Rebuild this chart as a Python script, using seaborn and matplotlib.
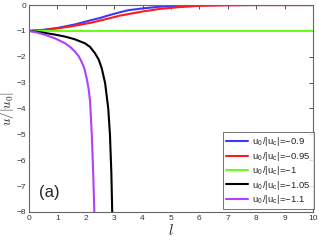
import numpy as np
import pandas as pd
import matplotlib
matplotlib.use("Agg")
import matplotlib.pyplot as plt
import seaborn as sns

labels = [r"u$_\mathregular{0}$/|u$_\mathregular{c}$|=−0.9",
          r"u$_\mathregular{0}$/|u$_\mathregular{c}$|=−0.95",
          r"u$_\mathregular{0}$/|u$_\mathregular{c}$|=−1",
          r"u$_\mathregular{0}$/|u$_\mathregular{c}$|=−1.05",
          r"u$_\mathregular{0}$/|u$_\mathregular{c}$|=−1.1"]
colors = ["#3a3aff", "#ff1a1a", "#66ff1a", "#000000", "#b040ff"]

l_blue = [0, 0.5, 1.03, 1.62, 2.2, 2.5, 2.8, 3.2, 3.5, 4.0, 4.6, 5.3, 6.0, 7.0, 10.0]
u_blue = [-1, -0.96, -0.88, -0.75, -0.58, -0.5, -0.4, -0.28, -0.2, -0.13, -0.065, -0.025, -0.005, 0, 0]

l_red = [0, 0.5, 1.03, 1.62, 2.2, 2.8, 3.2, 3.5, 4.0, 4.6, 5.3, 6.0, 7.0, 8.0, 10.0]
u_red = [-1, -0.97, -0.9, -0.8, -0.68, -0.52, -0.41, -0.35, -0.25, -0.15, -0.08, -0.03, -0.01, 0, 0]

l_green = [0, 10]
u_green = [-1, -1]

l_black = [0, 0.2, 0.56, 0.9, 1.27, 1.6, 1.97, 2.15, 2.32, 2.45, 2.56, 2.68, 2.79, 2.85, 2.9, 2.93]
u_black = [-1, -1.02, -1.08, -1.14, -1.22, -1.32, -1.48, -1.62, -1.86, -2.1, -2.44, -3.02, -4, -5, -6.5, -8]

l_purple = [0, 0.2, 0.56, 0.92, 1.27, 1.45, 1.62, 1.75, 1.85, 1.95, 2.03, 2.1, 2.15, 2.21, 2.26, 2.30]
u_purple = [-1, -1.04, -1.15, -1.29, -1.48, -1.62, -1.8, -1.98, -2.19, -2.45, -2.83, -3.25, -3.73, -5, -6.5, -8]

series = [(l_blue, u_blue), (l_red, u_red), (l_green, u_green), (l_black, u_black), (l_purple, u_purple)]
frames = []
for lab, (xs, ys) in zip(labels, series):
    frames.append(pd.DataFrame({"l": xs, "u": ys, "s": lab}))
df = pd.concat(frames, ignore_index=True)

sns.set_style("white")
plt.rcParams['font.family'] = ['Liberation Sans', 'DejaVu Sans']
plt.rcParams['mathtext.fontset'] = 'cm'

fig = plt.figure(figsize=(3.19, 2.40), dpi=100)
ax = fig.add_axes([0.091, 0.117, 0.890, 0.862])
sns.lineplot(data=df, x="l", y="u", hue="s", hue_order=labels, palette=colors,
             sort=False, estimator=None, linewidth=1.5, ax=ax)

ax.set_xlim(0, 10)
ax.set_ylim(-8, 0)
ax.set_xticks(range(0, 11))
ax.set_yticks(range(-8, 1))
ax.set_yticklabels([str(v).replace('-', '−') for v in range(-8, 1)])
ax.tick_params(direction='in', length=3, width=0.6, labelsize=6, top=True, right=True,
               colors='#333333', pad=2)
for sp in ax.spines.values():
    sp.set_color('#666666')
    sp.set_linewidth(0.8)

ax.set_xlabel(r"$l$", fontsize=11, labelpad=1)
ax.set_ylabel(r"$u/|u_0|$", fontsize=9.5)
ax.yaxis.set_label_coords(-0.045, 0.5)
ax.text(0.7, -7.25, "(a)", fontsize=12, ha='center', va='center')

leg = ax.legend(loc='lower right', fontsize=6.8, frameon=True, fancybox=False,
                edgecolor='#333333', bbox_to_anchor=(1.004, 0.012), borderaxespad=0,
                handlelength=2.3, labelspacing=0.15, borderpad=0.35, handletextpad=0.5)
leg.get_frame().set_linewidth(0.6)

fig.savefig("out.png", dpi=100)
